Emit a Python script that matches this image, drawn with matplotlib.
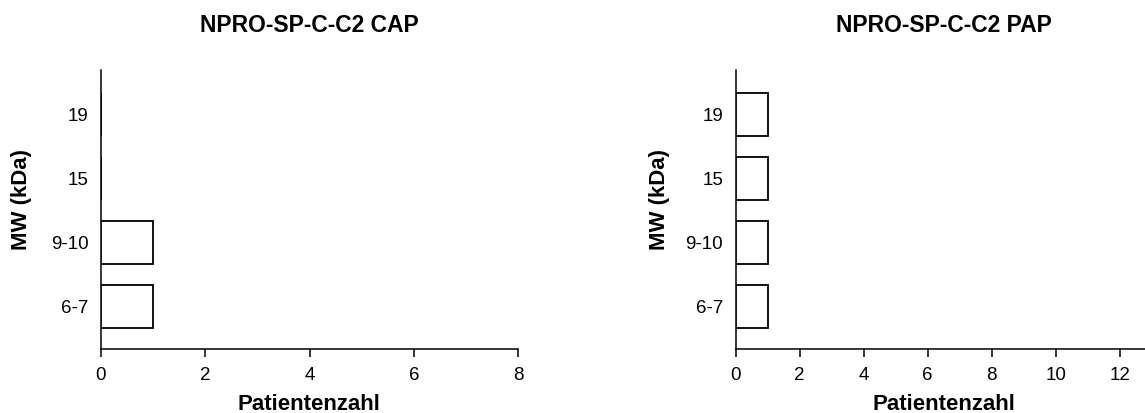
import matplotlib
matplotlib.use("Agg")
import matplotlib.pyplot as plt

plt.rcParams['font.family'] = ['Liberation Sans', 'DejaVu Sans']

categories = ["6-7", "9-10", "15", "19"]
cap_counts = [1, 1, 0, 0]
pap_counts = [1, 1, 1, 1]
titles = ["NPRO-SP-C-C2 CAP", "NPRO-SP-C-C2 PAP"]
cap_xticks = [0, 2, 4, 6, 8]
pap_xticks = [0, 2, 4, 6, 8, 10, 12]

W, H = 1145, 413
fig = plt.figure(figsize=(W / 100, H / 100), dpi=100)


def fx(px):
    return px / W


def fy(py):
    return 1 - py / H


def panel(left_px, right_px, counts, title, xticks, xmax, title_x, ylabel_x):
    bottom, top = fy(349), fy(70)
    ax = fig.add_axes([fx(left_px), bottom, fx(right_px - left_px), top - bottom])
    y = list(range(len(categories)))
    ax.barh(y, counts, height=0.67, color="white", edgecolor="black",
            linewidth=1.3, zorder=3)
    ax.set_xlim(0, xmax)
    ax.set_ylim(-0.67, len(categories) - 1 + 0.69)
    ax.set_yticks(y)
    ax.set_yticklabels(categories)
    ax.set_xticks(xticks)
    ax.tick_params(axis="y", length=0, pad=9, labelsize=13.5)
    ax.tick_params(axis="x", length=6, width=1.1, direction="out", pad=7,
                   labelsize=13.5)
    for side in ("top", "right"):
        ax.spines[side].set_visible(False)
    for side in ("left", "bottom"):
        ax.spines[side].set_linewidth(1.1)
    ax.set_xlabel("Patientenzahl", fontsize=16, fontweight="bold", va="center")
    ax.xaxis.set_label_coords(fx(title_x), fy(404), transform=fig.transFigure)
    ax.set_ylabel("MW (kDa)", fontsize=16, fontweight="bold", va="center")
    ax.yaxis.set_label_coords(fx(ylabel_x), fy(200), transform=fig.transFigure)
    fig.text(fx(title_x), fy(26), title, fontsize=16.5, fontweight="bold",
             ha="center", va="center")
    return ax


panel(101, 518, cap_counts, titles[0], cap_xticks, 8, 309, 22)
panel(735.7, 1145, pap_counts, titles[1], pap_xticks, 12.79, 944, 659)

fig.savefig("out.png", dpi=100)
